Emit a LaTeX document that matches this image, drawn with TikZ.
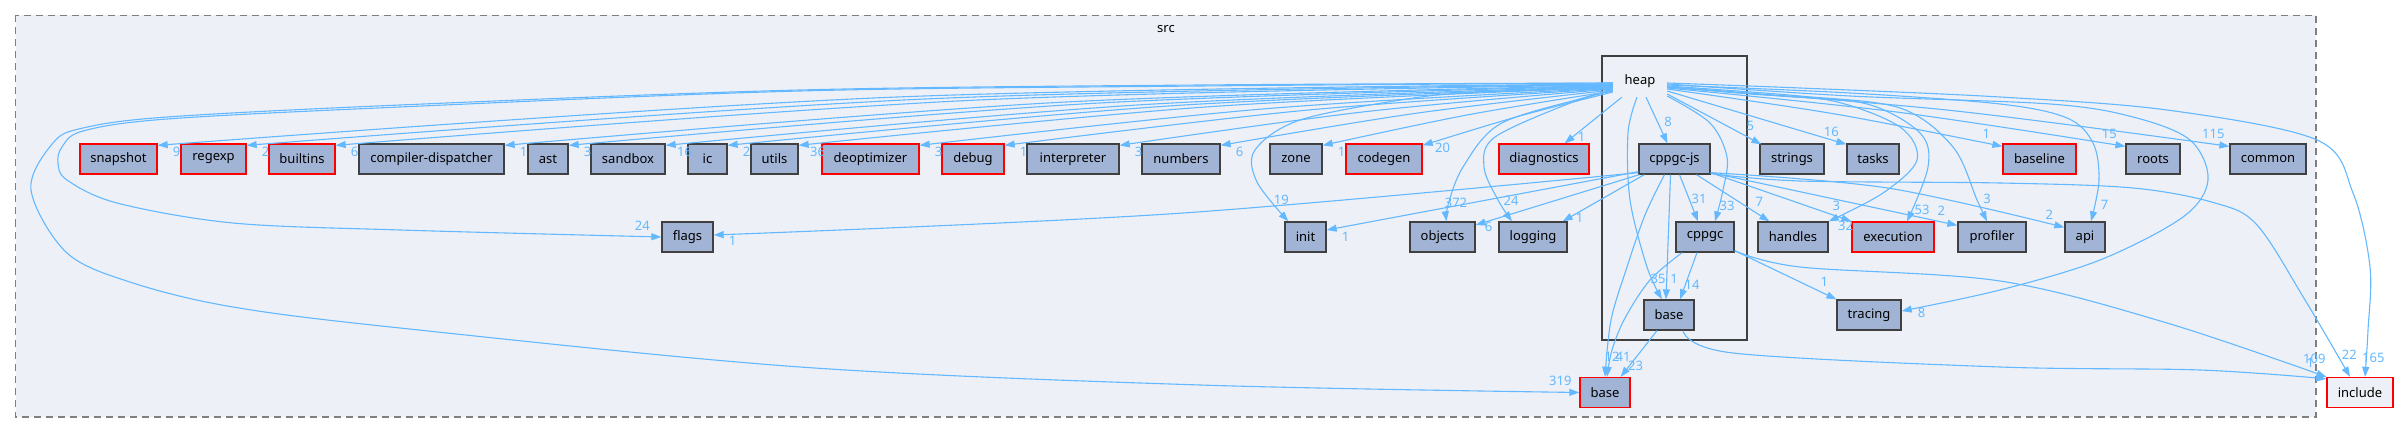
\documentclass[tikz,border=0pt]{standalone}
\usepackage{fontspec}
\setmainfont{Noto Sans}
\usetikzlibrary{arrows.meta}
\definecolor{edgeblue}{HTML}{63B8FF}
\definecolor{nodefill}{HTML}{A2B4D6}
\definecolor{nodeline}{HTML}{404040}
\definecolor{clusterbg}{HTML}{EDF1F7}
\definecolor{clusterline}{HTML}{7F7F7F}
\begin{document}
\begin{tikzpicture}[x=1bp,y=1bp,font=\fontsize{13bp}{15bp}\selectfont,
  dir/.style={draw=nodeline, fill=nodefill, line width=1.3bp, minimum height=30bp, inner sep=0pt, text=black},
  dirred/.style={dir, draw=red},
  e/.style={draw=edgeblue, line width=1.1bp, -{Triangle[length=10bp,width=7bp]}},
  sm/.style={smooth, tension=0.55},
  lbl/.style={text=edgeblue, inner sep=0pt}]
\useasboundingbox (0,0) rectangle (2398,-434);
% clusters
\draw[draw=clusterline, dash pattern=on 7bp off 5bp, line width=1.6bp, fill=clusterbg] (15.5,-15.5) rectangle (2316,-417);
\node (srclabel) at (1166,-29) {src};
\draw[draw=nodeline, line width=2.4bp, fill=clusterbg] (1602,-56) rectangle (1747,-340);
\node[inner sep=0pt, minimum width=54bp, minimum height=32bp] (heap) at (1640,-81) {heap};
% row 1
\node[dirred, minimum width=77bp] (snapshot) at (118.5,-159) {snapshot};
\node[dirred, minimum width=65bp] (regexp) at (213.5,-159) {regexp};
\node[dirred, minimum width=66bp] (builtins) at (302,-159) {builtins};
\node[dir, minimum width=145bp] (compdisp) at (431.5,-159) {compiler-dispatcher};
\node[dir, minimum width=40bp] (ast) at (548,-159) {ast};
\node[dir, minimum width=74bp] (sandbox) at (628,-159) {sandbox};
\node[dir, minimum width=39bp] (ic) at (707.5,-159) {ic};
\node[dir, minimum width=47bp] (utils) at (774.5,-159) {utils};
\node[dirred, minimum width=97bp] (deopt) at (870.5,-159) {deoptimizer};
\node[dirred, minimum width=62bp] (debug) at (973,-159) {debug};
\node[dir, minimum width=92bp] (interp) at (1073,-159) {interpreter};
\node[dir, minimum width=78bp] (numbers) at (1181,-159) {numbers};
\node[dir, minimum width=52bp] (zone) at (1296,-159) {zone};
\node[dirred, minimum width=76bp] (codegen) at (1384,-159) {codegen};
\node[dirred, minimum width=90bp] (diag) at (1544,-159) {diagnostics};
\node[dir, minimum width=71bp] (cppgcjs) at (1674.5,-159) {cppgc-js};
\node[dir, minimum width=64bp] (strings) at (1792,-159) {strings};
\node[dir, minimum width=52bp] (tasks) at (1873,-159) {tasks};
\node[dirred, minimum width=73bp] (baseline) at (2039.5,-159) {baseline};
\node[dir, minimum width=54bp] (roots) at (2153,-159) {roots};
\node[dir, minimum width=76bp] (common) at (2268,-159) {common};
% row 2
\node[dir, minimum width=51bp] (flags) at (687.5,-237) {flags};
\node[dir, minimum width=41bp] (init) at (1305.5,-237) {init};
\node[dir, minimum width=65bp] (objects) at (1442.5,-237) {objects};
\node[dir, minimum width=68bp] (logging) at (1533,-237) {logging};
\node[dir, minimum width=58bp] (cppgc) at (1705,-237) {cppgc};
\node[dir, minimum width=70bp] (handles) at (1793,-237) {handles};
\node[dirred, minimum width=82bp] (execution) at (1893,-237) {execution};
\node[dir, minimum width=68bp] (profiler) at (1992,-237) {profiler};
\node[dir, minimum width=40bp] (api) at (2085,-237) {api};
% row 3
\node[dir, minimum width=50bp] (baseheap) at (1669,-315) {base};
\node[dir, minimum width=64bp] (tracing) at (1869,-315) {tracing};
% row 4
\node[dirred, minimum width=50bp] (basesrc) at (1605,-392.5) {base};
\node[dirred, fill=clusterbg, minimum width=66bp] (include) at (2360,-392.5) {include};
% start / end coordinates
\coordinate (hA) at ([yshift=-2bp]heap.west);
\coordinate (hB) at ([yshift=-7bp]heap.west);
\coordinate (hC) at ([yshift=-9bp]heap.west);
\coordinate (hD) at ([yshift=-10bp]heap.west);
\coordinate (hE) at ([yshift=-2bp]heap.east);
\coordinate (hF) at ([yshift=-4bp]heap.east);
\coordinate (hG) at ([yshift=-3bp]heap.east);
\coordinate (hH) at ([yshift=-5bp]heap.east);
\coordinate (hI) at ([yshift=-6bp]heap.east);
\coordinate (hJ) at ([yshift=-6bp]heap.east);
\coordinate (hK) at ([yshift=-15bp]heap.east);
\coordinate (hL) at ([xshift=-3bp]heap.south);
\coordinate (cj1) at ([yshift=1bp]cppgcjs.south east);
\coordinate (cj2) at ([xshift=-10bp]cppgcjs.south);
\coordinate (cj3) at ([yshift=2bp]cppgcjs.south west);
\coordinate (cj4) at ([yshift=2bp]cppgcjs.south east);
\coordinate (cg1) at ([xshift=-23bp]cppgc.south);
\coordinate (cg2) at ([yshift=2bp]cppgc.south east);
\coordinate (bh1) at ([xshift=14bp]baseheap.south);
\coordinate (tInit) at ([xshift=4bp]init.north west);
\coordinate (tObj) at ([xshift=4bp]objects.north);
\coordinate (tLog) at ([xshift=-21bp]logging.north);
\coordinate (tInc1) at ([xshift=5bp]include.north);
\coordinate (tInc2) at ([xshift=-10bp]include.north);
\coordinate (tInc3) at ([yshift=-2bp]include.north west);
\coordinate (tApi) at ([xshift=6bp]api.north);
\coordinate (tApi2) at ([yshift=-6bp]api.north west);
\coordinate (tTr) at ([yshift=4bp]tracing.east);
\coordinate (tProf) at ([xshift=-5bp]profiler.north);
\coordinate (tExe) at ([xshift=14bp]execution.north);
\coordinate (tCg) at ([xshift=10bp]cppgc.north);
\coordinate (tBh) at ([xshift=-7bp]baseheap.north);
\coordinate (tBs2) at ([xshift=2bp]basesrc.north);
\coordinate (tFl) at ([yshift=2bp]flags.east);
% heap -> left row 1
\draw[e] plot[sm] coordinates {([yshift=-3bp]heap.west) (885,-97.5) ([yshift=-2bp]snapshot.north east)};
\draw[e] plot[sm] coordinates {([yshift=-3.5bp]heap.west) (929.5,-98.8) ([yshift=-2bp]regexp.north east)};
\draw[e] plot[sm] coordinates {([yshift=-4bp]heap.west) (974,-100.2) ([yshift=-2bp]builtins.north east)};
\draw[e] plot[sm] coordinates {([yshift=-4.5bp]heap.west) (1058.5,-102.4) ([yshift=-2bp]compdisp.north east)};
\draw[e] plot[sm] coordinates {([yshift=-5bp]heap.west) (1090.5,-103.5) ([yshift=-2bp]ast.north east)};
\draw[e] plot[sm] coordinates {([yshift=-5.5bp]heap.west) (1139,-104.9) ([yshift=-2bp]sandbox.north east)};
\draw[e] plot[sm] coordinates {([yshift=-6bp]heap.west) (1170,-105.9) ([yshift=-2bp]ic.north east)};
\draw[e] plot[sm] coordinates {([yshift=-6.5bp]heap.west) (1205.5,-107) ([yshift=-2bp]utils.north east)};
\draw[e] plot[sm] coordinates {([yshift=-7bp]heap.west) (1266,-108.7) ([yshift=-2bp]deopt.north east)};
\draw[e] plot[sm] coordinates {([yshift=-7.5bp]heap.west) (1308.5,-110) ([yshift=-2bp]debug.north east)};
\draw[e] plot[sm] coordinates {([yshift=-8bp]heap.west) (1366,-111.6) ([yshift=-2bp]interp.north east)};
\draw[e] plot[sm] coordinates {([yshift=-9bp]heap.west) (1416.5,-113.2) ([yshift=-2bp]numbers.north east)};
\draw[e] plot[sm] coordinates {([yshift=-10bp]heap.west) (1467.5,-114.9) ([yshift=-2bp]zone.north east)};
\draw[e] plot[sm] coordinates {([yshift=-11bp]heap.west) (1517.5,-116.6) ([yshift=-2bp]codegen.north east)};
\draw[e] ([xshift=9bp]heap.south west) -- ([xshift=-25bp]diag.north east);
% heap loops
\draw[e] plot[sm] coordinates {(hA) (1200,-85) (800,-90) (400,-105) (167,-117) (83,-128) (53,-143) (31,-190) (67,-253) (133,-283) (233,-307) (400,-328) (800,-367) (1200,-385) (basesrc.west)};
\draw[e] plot[sm] coordinates {(hA) (1200,-86) (800,-91) (400,-107) (167,-119) (83,-131) (62,-147) (58,-163) (67,-180) (117,-203) (233,-223) (400,-230) (flags.west)};
\draw[e] plot[sm] coordinates {(hB) (1480,-92) (1407,-99) (1300,-120) (1255,-150) (1257,-182) (tInit)};
\draw[e] plot[sm] coordinates {(hC) (1583,-98) (1500,-124) (1463,-167) (1448,-205) (tObj)};
\draw[e] plot[sm] coordinates {(hD) (1573,-102) (1495,-137) (1484,-167) (1498,-200) (tLog)};
% heap -> right
\draw[e] ([xshift=6bp]heap.south) -- ([xshift=-7bp]cppgcjs.north);
\draw[e] plot[sm] coordinates {(hL) (1628,-133) (1630,-200) (1647,-267) (tBh)};
\draw[e] plot[sm] coordinates {(hK) (1710,-123) (1727,-157) (1723,-190) (tCg)};
\draw[e] ([yshift=-13bp]heap.east) -- ([xshift=2bp,yshift=-1bp]strings.north west);
\draw[e] ([yshift=-10bp]heap.east) -- ([yshift=-1bp]tasks.north west);
\draw[e] plot[sm] coordinates {([yshift=-8bp]heap.east) (1835,-114) ([yshift=-3bp]baseline.north west)};
\draw[e] plot[sm] coordinates {([yshift=-7bp]heap.east) (1896.5,-112) ([yshift=-3bp]roots.north west)};
\draw[e] plot[sm] coordinates {([yshift=-6bp]heap.east) (1948.5,-110.2) ([yshift=-3bp]common.north west)};
\draw[e] plot[sm] coordinates {(hE) (1800,-88) (2000,-97) (2167,-110) (2317,-140) (2353,-193) (2370,-267) (2368,-330) (tInc1)};
\draw[e] plot[sm] coordinates {(hF) (1850,-93) (2000,-104) (2067,-118) (2093,-143) (2099,-180) (tApi)};
\draw[e] plot[sm] coordinates {(hG) (1850,-96) (2050,-104) (2133,-117) (2190,-140) (2208,-180) (2183,-217) (2100,-260) (2000,-290) (tTr)};
\draw[e] plot[sm] coordinates {(hH) (1800,-96) (1900,-108) (1953,-147) (1977,-200) (tProf)};
\draw[e] plot[sm] coordinates {(hI) (1780,-96) (1867,-104) (1920,-133) (1928,-167) (tExe)};
\draw[e] plot[sm] coordinates {(hJ) (1750,-94) (1833,-101) (1900,-127) (1917,-160) (1883,-193) (handles.north east)};
% cppgc-js
\draw[e] plot[sm] coordinates {(cj3) (1176,-213.5) (tFl)};
\draw[e] ([yshift=3bp]cppgcjs.south west) -- ([yshift=7bp]init.east);
\draw[e] ([xshift=1bp]cppgcjs.south west) -- ([yshift=12bp]objects.east);
\draw[e] ([xshift=6bp]cppgcjs.south west) -- ([xshift=-5bp]logging.north east);
\draw[e] ([xshift=5bp]cppgcjs.south) -- ([xshift=-7bp]cppgc.north);
\draw[e] ([xshift=-4bp]cppgcjs.south) -- ([xshift=-3bp]baseheap.north);
\draw[e] ([xshift=22bp]cppgcjs.south) -- ([xshift=12bp]handles.north west);
\draw[e] (cj4) -- (execution.north west);
\draw[e] (cj4) -- ([yshift=-4bp]profiler.north west);
\draw[e] plot[sm] coordinates {(cj4) (1887.5,-188) (tApi2)};
\draw[e] plot[sm] coordinates {(cj1) (1800,-181) (2000,-183) (2133,-188) (2215,-203) (2257,-225) (2305,-300) (tInc2)};
\draw[e] plot[sm] coordinates {(cj2) (1645,-215) (1627,-267) (1611,-320) (basesrc.north)};
% cppgc
\draw[e] ([xshift=-8bp]cppgc.south) -- ([xshift=11bp]baseheap.north);
\draw[e] plot[sm] coordinates {(cg1) (1650,-280) (1625,-318) (1612,-350) (tBs2)};
\draw[e] (cg2) -- (tracing.north west);
\draw[e] plot[sm] coordinates {(cg2) (1800,-267) (2000,-281) (2167,-323) (include.north west)};
% base (heap)
\draw[e] ([xshift=-12bp]baseheap.south) -- ([xshift=-10bp]basesrc.north east);
\draw[e] plot[sm] coordinates {(bh1) (1733,-353) (2000,-367) (2200,-370) (tInc3)};
% labels
\node[lbl] (l1) at ([xshift=19bp,yshift=7bp]snapshot.east) {9};
\node[lbl] (l2) at ([xshift=19bp,yshift=7bp]regexp.east) {2};
\node[lbl] (l3) at ([xshift=19bp,yshift=7bp]builtins.east) {6};
\node[lbl] (l4) at ([xshift=19bp,yshift=7bp]compdisp.east) {1};
\node[lbl] (l5) at ([xshift=19bp,yshift=7bp]ast.east) {3};
\node[lbl] (l6) at ([xshift=19bp,yshift=7bp]sandbox.east) {16};
\node[lbl] (l7) at ([xshift=19bp,yshift=7bp]ic.east) {2};
\node[lbl] (l8) at ([xshift=19bp,yshift=7bp]utils.east) {36};
\node[lbl] (l9) at ([xshift=19bp,yshift=7bp]deopt.east) {3};
\node[lbl] (l10) at ([xshift=19bp,yshift=7bp]debug.east) {1};
\node[lbl] (l11) at ([xshift=19bp,yshift=7bp]interp.east) {3};
\node[lbl] (l12) at ([xshift=19bp,yshift=7bp]numbers.east) {6};
\node[lbl] (l13) at ([xshift=19bp,yshift=7bp]zone.east) {1};
\node[lbl] (l14) at ([xshift=20bp,yshift=11bp]codegen.east) {20};
\node[lbl] (l15) at ([xshift=-19bp,yshift=11bp]flags.west) {24};
\node[lbl] (l16) at ([xshift=19bp,yshift=-4bp]flags.east) {1};
\node[lbl] (l17) at ([xshift=-3bp,yshift=21bp]init.north west) {19};
\node[lbl] (l18) at ([xshift=19bp]init.east) {1};
\node[lbl] (l19) at ([xshift=13.5bp,yshift=18bp]objects.north) {372};
\node[lbl] (l20) at ([xshift=13bp,yshift=10bp]objects.east) {6};
\node[lbl] (l21) at ([xshift=-22bp,yshift=21bp]logging.north) {24};
\node[lbl] (l22) at ([xshift=12bp,yshift=3bp]logging.north east) {1};
\node[lbl] (l23) at ([xshift=-8bp,yshift=6bp]diag.north east) {1};
\node[lbl] (l24) at ([xshift=-6.5bp,yshift=21bp]cppgcjs.north) {8};
\node[lbl] (l25) at ([xshift=-9bp,yshift=17bp]strings.north west) {5};
\node[lbl] (l26) at ([xshift=-15bp,yshift=11bp]tasks.north west) {16};
\node[lbl] (l27) at ([xshift=-16bp,yshift=9bp]baseline.north west) {1};
\node[lbl] (l28) at ([xshift=-16bp,yshift=9bp]roots.north west) {15};
\node[lbl] (l29) at ([xshift=-16bp,yshift=9bp]common.north west) {115};
\node[lbl] (l30) at ([xshift=-6bp,yshift=22bp]cppgc.north) {31};
\node[lbl] (l31) at ([xshift=22bp,yshift=15bp]cppgc.north) {33};
\node[lbl] (l32) at ([xshift=2bp,yshift=19bp]handles.north west) {7};
\node[lbl] (l33) at ([xshift=17bp,yshift=-5bp]handles.north east) {32};
\node[lbl] (l34) at ([xshift=-15bp,yshift=15bp]execution.north west) {3};
\node[lbl] (l35) at ([xshift=29bp,yshift=11bp]execution.north) {53};
\node[lbl] (l36) at ([xshift=-16bp,yshift=11bp]profiler.north west) {2};
\node[lbl] (l37) at ([xshift=-5bp,yshift=22bp]profiler.north) {3};
\node[lbl] (l38) at ([xshift=-15bp,yshift=7bp]api.north west) {2};
\node[lbl] (l39) at ([xshift=-1bp,yshift=16bp]api.north east) {7};
\node[lbl] (l40) at ([xshift=-11bp,yshift=20bp]baseheap.north) {35};
\node[lbl] (l41) at ([xshift=5bp,yshift=20bp]baseheap.north) {1};
\node[lbl] (l42) at ([xshift=23bp,yshift=15bp]baseheap.north) {14};
\node[lbl] (l43) at ([xshift=-12bp,yshift=17bp]tracing.north west) {1};
\node[lbl] (l44) at ([xshift=20bp,yshift=2bp]tracing.east) {8};
\node[lbl] (l45) at ([xshift=-19bp,yshift=11.5bp]basesrc.west) {319};
\node[lbl] (l46) at ([xshift=7bp,yshift=20bp]basesrc.north) {12};
\node[lbl] (l47) at ([xshift=18bp,yshift=20bp]basesrc.north) {41};
\node[lbl] (l48) at ([xshift=5bp,yshift=11bp]basesrc.north east) {23};
\node[lbl] (l49) at ([xshift=-12bp,yshift=18bp]include.north west) {109};
\node[lbl] (l50) at ([xshift=-16bp,yshift=14bp]include.north west) {1};
\node[lbl] (l51) at ([xshift=23bp,yshift=22bp]include.north west) {22};
\node[lbl] (l52) at ([xshift=47bp,yshift=19bp]include.north west) {165};
\end{tikzpicture}
\end{document}
